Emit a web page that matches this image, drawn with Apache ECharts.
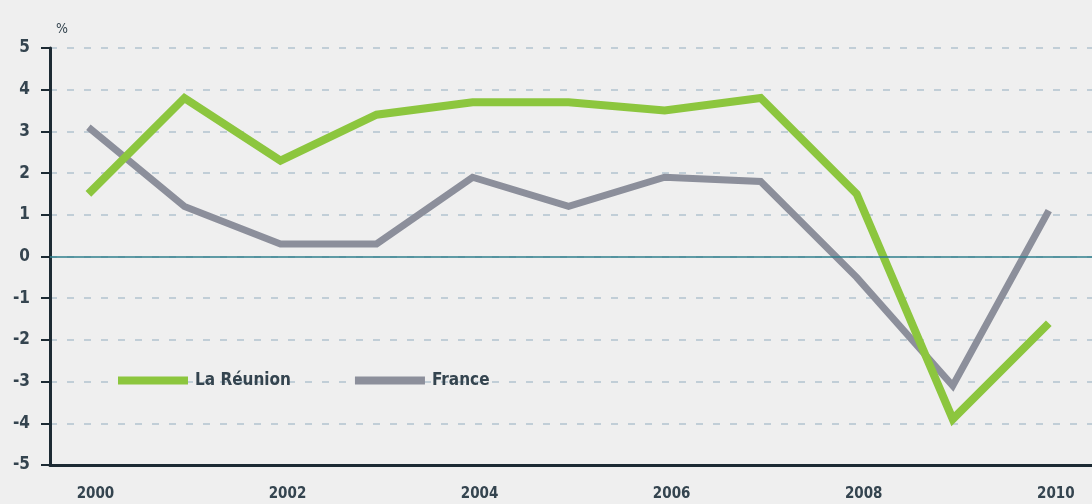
<!DOCTYPE html>
<html>
<head>
<meta charset="utf-8">
<script src="https://cdn.jsdelivr.net/npm/echarts@6/dist/echarts.min.js"></script>
<style>
  html, body { margin: 0; padding: 0; background: #efefef; }
  #chart { width: 1092px; height: 504px; }
</style>
</head>
<body>
<div id="chart"></div>
<script>
// Annual growth rate (%), 2000-2010
const years = [2000, 2001, 2002, 2003, 2004, 2005, 2006, 2007, 2008, 2009, 2010];
const reunion = [1.5, 3.8, 2.3, 3.4, 3.7, 3.7, 3.5, 3.8, 1.5, -3.9, -1.6];
const france = [3.1, 1.2, 0.3, 0.3, 1.9, 1.2, 1.9, 1.8, -0.5, -3.1, 1.1];
const yearLabels = [2000, 2002, 2004, 2006, 2008, 2010];

const FONT = '"DejaVu Sans Condensed", "Liberation Sans Narrow", "Roboto", sans-serif';
const TEXT = '#34444f';

const chart = echarts.init(document.getElementById('chart'));
chart.setOption({
  backgroundColor: '#efefef',
  animation: false,
  grid: { left: 50, right: 0, top: 48, bottom: 39 },
  legend: {
    left: 113,
    top: 367,
    itemWidth: 70,
    itemHeight: 8,
    itemGap: 64,
    icon: 'rect',
    textStyle: { fontFamily: FONT, fontSize: 17, color: TEXT, fontWeight: 'bold', padding: [0, 0, 0, 2] },
    data: ['La Réunion', 'France']
  },
  xAxis: {
    type: 'value',
    min: 1999.6,
    max: 2010.45,
    axisLine: { show: true, onZero: false, lineStyle: { color: '#1c2a33', width: 3 } },
    axisTick: { show: false },
    splitLine: { show: false },
    axisLabel: {
      customValues: yearLabels,
      formatter: (v) => String(v),
      fontFamily: FONT,
      fontSize: 15,
      fontWeight: 'bold',
      color: TEXT,
      margin: 22,
      padding: [0, 0, 0, 14]
    }
  },
  yAxis: {
    type: 'value',
    min: -5,
    max: 5,
    interval: 1,
    name: '%',
    nameGap: 12,
    nameTextStyle: { fontFamily: FONT, fontSize: 14, color: TEXT, align: 'left', padding: [0, 0, 0, 6] },
    axisLine: { show: true, lineStyle: { color: '#1c2a33', width: 3 } },
    axisTick: { show: true, length: 9, lineStyle: { color: '#1c2a33', width: 2 } },
    axisLabel: { fontFamily: FONT, fontSize: 17, fontWeight: 'bold', color: TEXT, margin: 20 },
    splitLine: {
      show: true,
      lineStyle: { color: '#b3c3cf', type: [7, 10], width: 1.5 }
    }
  },
  series: [
    {
      name: 'La Réunion',
      type: 'line',
      data: years.map((y, i) => [y, reunion[i]]),
      symbol: 'none',
      color: '#8cc63e',
      lineStyle: { width: 8, color: '#8cc63e', join: 'miter' },
      z: 3,
      markLine: {
        silent: true,
        symbol: 'none',
        label: { show: false },
        lineStyle: { color: '#2f7f8c', width: 1.5, type: 'solid' },
        data: [{ yAxis: 0 }]
      }
    },
    {
      name: 'France',
      type: 'line',
      data: years.map((y, i) => [y, france[i]]),
      symbol: 'none',
      color: '#8c8f9b',
      lineStyle: { width: 7, color: '#8c8f9b', join: 'miter' },
      z: 2
    }
  ]
});
</script>
</body>
</html>
